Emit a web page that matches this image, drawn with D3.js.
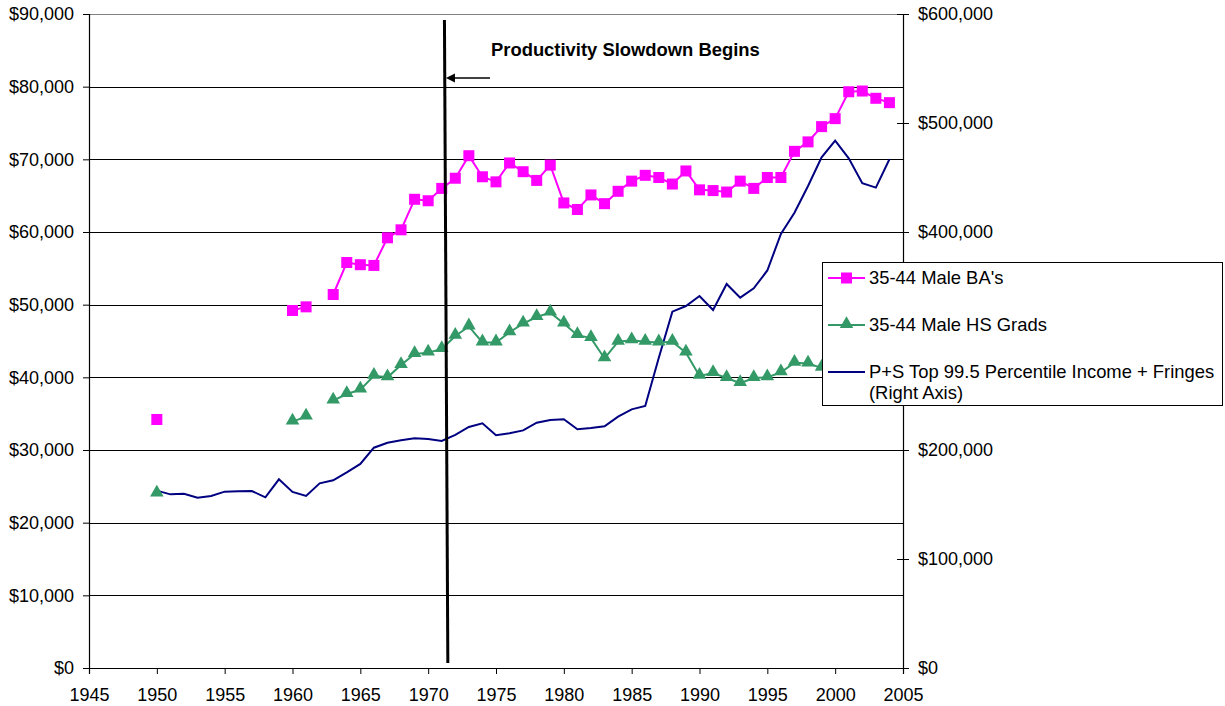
<!DOCTYPE html>
<html>
<head>
<meta charset="utf-8">
<script src="https://cdn.jsdelivr.net/npm/d3@7"></script>
<style>
  body { margin: 0; background: #fff; }
  text { font-family: Arial, "Liberation Sans", sans-serif; }
</style>
</head>
<body>
<script>
//Width, Height and plot box
var w = 1225;
var h = 706;
var padLeft = 89, padRight = 903, padTop = 14, padBottom = 668;

//Data, one value per year (null = no observation)
var years = [1950,1951,1952,1953,1954,1955,1956,1957,1958,1959,
             1960,1961,1962,1963,1964,1965,1966,1967,1968,1969,
             1970,1971,1972,1973,1974,1975,1976,1977,1978,1979,
             1980,1981,1982,1983,1984,1985,1986,1987,1988,1989,
             1990,1991,1992,1993,1994,1995,1996,1997,1998,1999,
             2000,2001,2002,2003,2004];

var maleBA = [34200,null,null,null,null,null,null,null,null,null,
              49200,49700,null,51400,55800,55500,55400,59200,60300,64500,
              64300,66000,67400,70500,67600,66900,69500,68300,67100,69200,
              64000,63100,65100,63900,65600,67000,67800,67500,66600,68400,
              65800,65700,65500,67000,66000,67500,67500,71100,72400,74500,
              75600,79300,79400,78400,77800];

var maleHS = [24000,null,null,null,null,null,null,null,null,null,
              33900,34600,null,36800,37700,38300,40200,40000,41700,43200,
              43400,43900,45700,47000,44800,44800,46200,47400,48300,48900,
              47400,45800,45400,42600,44900,45100,44900,44800,44900,43400,
              40200,40600,39900,39200,39900,40000,40700,42000,41900,41300,
              null,null,null,null,null];

var topIncome = [162700,159300,159900,156300,157800,161800,162100,162400,156600,173100,
                 161500,157800,169400,172200,179500,187200,202100,206700,208900,210700,
                 210100,208300,213800,221100,224500,213500,215300,218000,225000,227500,
                 228200,219000,220200,221700,230600,237300,240400,284700,326900,332100,
                 341300,328400,352300,339800,348300,364700,398200,417700,442200,468500,
                 483800,467600,444700,440700,466700];

var leftTicks = [0,10000,20000,30000,40000,50000,60000,70000,80000,90000];
var rightTicks = [0,100000,200000,300000,400000,500000,600000];
var xTicks = [1945,1950,1955,1960,1965,1970,1975,1980,1985,1990,1995,2000,2005];

var legendNames = ["35-44 Male BA's", "35-44 Male HS Grads",
                   "P+S Top 99.5 Percentile Income + Fringes", "(Right Axis)"];

var pink = "#ff00ff", green = "#339966", navy = "#000080";

/****SVG Declaration****/
var svg = d3.select("body")
            .append("svg")
            .attr("width", w)
            .attr("height", h);

var xScale = d3.scaleLinear().domain([1945, 2005]).range([padLeft, padRight]);
var yLeft = d3.scaleLinear().domain([0, 90000]).range([padBottom, padTop]);
var yRight = d3.scaleLinear().domain([0, 600000]).range([padBottom, padTop]);

/****Gridlines****/
svg.selectAll("line.grid")
   .data(leftTicks.slice(1))
   .enter()
   .append("line")
   .attr("class", "grid")
   .attr("x1", padLeft)
   .attr("x2", padRight)
   .attr("y1", function(d){ return Math.round(yLeft(d)) + 0.5; })
   .attr("y2", function(d){ return Math.round(yLeft(d)) + 0.5; })
   .attr("stroke", function(d){ return d == 90000 ? "#808080" : "#000"; })
   .attr("stroke-width", 1);

/****Axes****/
var fmt = function(d){ return "$" + d3.format(",")(d); };

var xAxis = d3.axisBottom(xScale)
              .tickValues(xTicks)
              .tickFormat(d3.format("d"))
              .tickSize(6)
              .tickPadding(14);
var yAxisL = d3.axisLeft(yLeft)
               .tickValues(leftTicks)
               .tickFormat(fmt)
               .tickSize(6)
               .tickPadding(9);
var yAxisR = d3.axisRight(yRight)
               .tickValues(rightTicks)
               .tickFormat(fmt)
               .tickSize(6)
               .tickPadding(9);

var gx = svg.append("g")
            .attr("transform", "translate(0," + padBottom + ")")
            .call(xAxis);
var gl = svg.append("g")
            .attr("transform", "translate(" + padLeft + ",0)")
            .call(yAxisL);
var gr = svg.append("g")
            .attr("transform", "translate(" + padRight + ",0)")
            .call(yAxisR);
//right axis ticks cross the axis line
gr.selectAll(".tick line").attr("x1", -6);

[gx, gl, gr].forEach(function(g){
  g.selectAll(".domain").attr("stroke", "#000").attr("stroke-width", 1.2);
  g.selectAll(".tick line").attr("stroke", "#000");
  g.selectAll("text")
   .attr("font-size", "18px")
   .attr("fill", "#000")
   .style("font-family", "Arial, 'Liberation Sans', sans-serif");
});

/****Lines****/
var rows = years.map(function(y, i){
  return {year: y, ba: maleBA[i], hs: maleHS[i], inc: topIncome[i]};
});

var lineBA = d3.line()
               .defined(function(d){ return d.ba != null; })
               .x(function(d){ return xScale(d.year); })
               .y(function(d){ return yLeft(d.ba); });
var lineHS = d3.line()
               .defined(function(d){ return d.hs != null; })
               .x(function(d){ return xScale(d.year); })
               .y(function(d){ return yLeft(d.hs); });
var lineTop = d3.line()
                .x(function(d){ return xScale(d.year); })
                .y(function(d){ return yRight(d.inc); });

svg.append("path")
   .attr("d", lineTop(rows))
   .attr("fill", "none")
   .attr("stroke", navy)
   .attr("stroke-width", 2);

svg.append("path")
   .attr("d", lineHS(rows))
   .attr("fill", "none")
   .attr("stroke", green)
   .attr("stroke-width", 2);

svg.selectAll("path.tri")
   .data(rows.filter(function(d){ return d.hs != null; }))
   .enter()
   .append("path")
   .attr("class", "tri")
   .attr("d", d3.symbol().type(d3.symbolTriangle).size(80))
   .attr("transform", function(d){
     return "translate(" + xScale(d.year) + "," + (yLeft(d.hs) - 1) + ")";
   })
   .attr("fill", green);

svg.append("path")
   .attr("d", lineBA(rows))
   .attr("fill", "none")
   .attr("stroke", pink)
   .attr("stroke-width", 2);

svg.selectAll("rect.sq")
   .data(rows.filter(function(d){ return d.ba != null; }))
   .enter()
   .append("rect")
   .attr("class", "sq")
   .attr("x", function(d){ return xScale(d.year) - 5.5; })
   .attr("y", function(d){ return yLeft(d.ba) - 5.5; })
   .attr("width", 11)
   .attr("height", 11)
   .attr("fill", pink);

/****Annotation: productivity slowdown****/
svg.append("line")
   .attr("x1", xScale(1971.2))
   .attr("x2", xScale(1971.45))
   .attr("y1", 20)
   .attr("y2", 663)
   .attr("stroke", "#000")
   .attr("stroke-width", 3);

svg.append("line")
   .attr("x1", 490)
   .attr("x2", xScale(1971.2) + 8)
   .attr("y1", 78)
   .attr("y2", 78)
   .attr("stroke", "#000")
   .attr("stroke-width", 1.5);
svg.append("path")
   .attr("d", "M" + (xScale(1971.2) + 1.5) + ",78 l9,-4.5 l0,9 z")
   .attr("fill", "#000");

svg.append("text")
   .attr("x", 491)
   .attr("y", 56)
   .attr("font-size", "18.4px")
   .attr("font-weight", "bold")
   .text("Productivity Slowdown Begins");

/****Legend****/
var lg = svg.append("g");
lg.append("rect")
  .attr("x", 822.5)
  .attr("y", 262.5)
  .attr("width", 400)
  .attr("height", 143)
  .attr("fill", "#fff")
  .attr("stroke", "#000")
  .attr("stroke-width", 1);

var legendY = [278, 325, 372];
var legendCol = [pink, green, navy];
legendY.forEach(function(y, i){
  lg.append("line")
    .attr("x1", 828).attr("x2", 865)
    .attr("y1", y).attr("y2", y)
    .attr("stroke", legendCol[i])
    .attr("stroke-width", 2);
});
lg.append("rect")
  .attr("x", 841).attr("y", 272.5)
  .attr("width", 11).attr("height", 11)
  .attr("fill", pink);
lg.append("path")
  .attr("d", d3.symbol().type(d3.symbolTriangle).size(80))
  .attr("transform", "translate(846.5," + (325 - 1) + ")")
  .attr("fill", green);

var legendTextY = [284, 331, 378, 399];
legendNames.forEach(function(t, i){
  lg.append("text")
    .attr("x", 869)
    .attr("y", legendTextY[i])
    .attr("font-size", "18.4px")
    .attr("fill", "#000")
    .text(t);
});
</script>
</body>
</html>
